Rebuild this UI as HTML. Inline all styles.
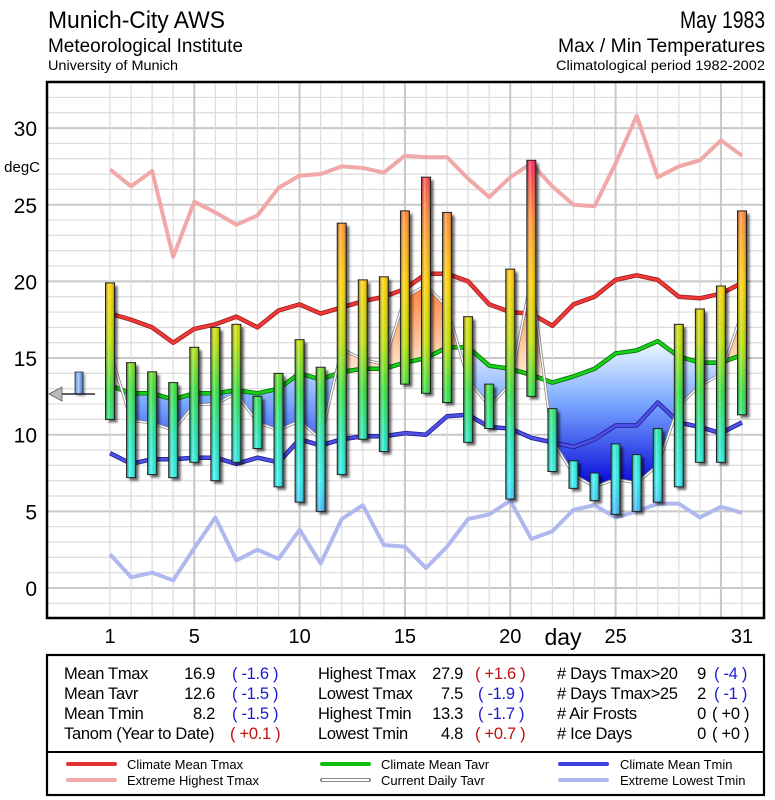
<!DOCTYPE html>
<html><head><meta charset="utf-8"><style>
html,body{margin:0;padding:0;background:#fff;}
svg{display:block;font-family:"Liberation Sans",sans-serif;}
#stats text{letter-spacing:-0.3px;}
</style></head><body>
<svg id="chart" width="775" height="800" viewBox="0 0 775 800">
<defs>
<linearGradient id="barGrad" gradientUnits="userSpaceOnUse" x1="0" y1="159" x2="0" y2="512">
<stop offset="0" stop-color="#ff2058"/><stop offset="0.17" stop-color="#ff9030"/><stop offset="0.35" stop-color="#ffd000"/>
<stop offset="0.52" stop-color="#c0e000"/><stop offset="0.66" stop-color="#30e040"/><stop offset="0.8" stop-color="#20e8c0"/>
<stop offset="0.91" stop-color="#30f0f0"/><stop offset="1" stop-color="#40b8ff"/></linearGradient>
<linearGradient id="barShade" x1="0" y1="0" x2="1" y2="0">
<stop offset="0" stop-color="#000" stop-opacity="0.35"/><stop offset="0.35" stop-color="#fff" stop-opacity="0.35"/>
<stop offset="0.6" stop-color="#fff" stop-opacity="0"/><stop offset="1" stop-color="#000" stop-opacity="0.45"/></linearGradient>
<linearGradient id="blueFill" gradientUnits="userSpaceOnUse" x1="0" y1="345" x2="0" y2="490">
<stop offset="0" stop-color="#e8f4ff"/><stop offset="0.4" stop-color="#7aa8ff"/><stop offset="1" stop-color="#0000d8"/></linearGradient>
<linearGradient id="orangeFill" gradientUnits="userSpaceOnUse" x1="0" y1="280" x2="0" y2="380">
<stop offset="0" stop-color="#ff7a30"/><stop offset="1" stop-color="#fff4e0"/></linearGradient>
<linearGradient id="tanomGrad" x1="0" y1="0" x2="1" y2="0">
<stop offset="0" stop-color="#5080d0"/><stop offset="0.4" stop-color="#b0d0ff"/><stop offset="1" stop-color="#4070c0"/></linearGradient>
<filter id="shadow" x="-50%" y="-10%" width="200%" height="120%"><feGaussianBlur stdDeviation="1.2"/></filter>
<clipPath id="plotClip"><rect x="47" y="82" width="717" height="536"/></clipPath>
</defs>
<g id="header">
<text x="48" y="28" font-size="24" textLength="177" lengthAdjust="spacingAndGlyphs">Munich-City AWS</text>
<text x="48" y="52" font-size="19" textLength="195" lengthAdjust="spacingAndGlyphs">Meteorological Institute</text>
<text x="48" y="70" font-size="14" textLength="130" lengthAdjust="spacingAndGlyphs">University of Munich</text>
<text x="765" y="28" font-size="24" text-anchor="end" textLength="85" lengthAdjust="spacingAndGlyphs">May 1983</text>
<text x="765" y="52" font-size="19" text-anchor="end" textLength="207" lengthAdjust="spacingAndGlyphs">Max / Min Temperatures</text>
<text x="765" y="70" font-size="14" text-anchor="end" textLength="209" lengthAdjust="spacingAndGlyphs">Climatological period 1982-2002</text>
</g>
<g id="grid"></g>
<g id="fills" clip-path="url(#plotClip)"></g>
<g id="lines" clip-path="url(#plotClip)"></g>
<g id="bars"></g>
<g id="marker">
<rect x="77" y="374" width="8" height="22" fill="#333" opacity="0.5" filter="url(#shadow)"/>
<rect x="75" y="372" width="8" height="22" fill="url(#tanomGrad)" stroke="#333" stroke-width="0.8"/>
<line x1="60" y1="394" x2="95" y2="394" stroke="#000" stroke-width="1.3"/>
<polygon points="49,394 62,387 62,401" fill="#bbb" stroke="#555" stroke-width="0.8"/>
</g>
<rect x="47" y="82" width="717" height="536" fill="none" stroke="#000" stroke-width="2.5"/>
<g id="axes"></g>
<text x="40" y="172" font-size="15" text-anchor="end">degC</text>
<text x="563" y="645" font-size="23" text-anchor="middle">day</text>

<g id="stats" font-size="16.5">
<rect x="47" y="655" width="717" height="140" fill="#fff" stroke="#000" stroke-width="2.2"/>
<line x1="47" y1="752" x2="764" y2="752" stroke="#000" stroke-width="2"/>
<g>
<text x="64" y="679">Mean Tmax</text><text x="215" y="679" text-anchor="end">16.9</text><text x="232" y="679" fill="#1a1ad0">( -1.6 )</text>
<text x="64" y="699">Mean Tavr</text><text x="215" y="699" text-anchor="end">12.6</text><text x="232" y="699" fill="#1a1ad0">( -1.5 )</text>
<text x="64" y="719">Mean Tmin</text><text x="215" y="719" text-anchor="end">8.2</text><text x="232" y="719" fill="#1a1ad0">( -1.5 )</text>
<text x="64" y="739">Tanom (Year to Date)</text><text x="230" y="739" fill="#c01010">( +0.1 )</text>
</g>
<g>
<text x="318" y="679">Highest Tmax</text><text x="463" y="679" text-anchor="end">27.9</text><text x="475" y="679" fill="#c01010">( +1.6 )</text>
<text x="318" y="699">Lowest Tmax</text><text x="463" y="699" text-anchor="end">7.5</text><text x="478" y="699" fill="#1a1ad0">( -1.9 )</text>
<text x="318" y="719">Highest Tmin</text><text x="463" y="719" text-anchor="end">13.3</text><text x="478" y="719" fill="#1a1ad0">( -1.7 )</text>
<text x="318" y="739">Lowest Tmin</text><text x="463" y="739" text-anchor="end">4.8</text><text x="475" y="739" fill="#c01010">( +0.7 )</text>
</g>
<g>
<text x="557" y="679"># Days Tmax&gt;20</text><text x="706" y="679" text-anchor="end">9</text><text x="714" y="679" fill="#1a1ad0">( -4 )</text>
<text x="557" y="699"># Days Tmax&gt;25</text><text x="706" y="699" text-anchor="end">2</text><text x="714" y="699" fill="#1a1ad0">( -1 )</text>
<text x="557" y="719"># Air Frosts</text><text x="706" y="719" text-anchor="end">0</text><text x="712" y="719">( +0 )</text>
<text x="557" y="739"># Ice Days</text><text x="706" y="739" text-anchor="end">0</text><text x="712" y="739">( +0 )</text>
</g>
</g>
<g id="legend" font-size="13">
<g><line x1="68" y1="764" x2="115" y2="764" stroke="#e03030" stroke-width="4" stroke-linecap="round"/><text x="127" y="769">Climate Mean Tmax</text></g>
<g><line x1="68" y1="780" x2="115" y2="780" stroke="#f0a8a8" stroke-width="4" stroke-linecap="round"/><text x="127" y="785">Extreme Highest Tmax</text></g>
<g><line x1="322" y1="764" x2="369" y2="764" stroke="#10c010" stroke-width="4" stroke-linecap="round"/><text x="381" y="769">Climate Mean Tavr</text></g>
<g><line x1="322" y1="780" x2="369" y2="780" stroke="#888" stroke-width="4" stroke-linecap="round"/><line x1="322" y1="780" x2="369" y2="780" stroke="#fff" stroke-width="2"/><text x="381" y="785">Current Daily Tavr</text></g>
<g><line x1="560" y1="764" x2="607" y2="764" stroke="#4040e0" stroke-width="4" stroke-linecap="round"/><text x="620" y="769">Climate Mean Tmin</text></g>
<g><line x1="560" y1="780" x2="607" y2="780" stroke="#b0b8f0" stroke-width="4" stroke-linecap="round"/><text x="620" y="785">Extreme Lowest Tmin</text></g>
</g>
</svg>
<script>
const days = [1,2,3,4,5,6,7,8,9,10,11,12,13,14,15,16,17,18,19,20,21,22,23,24,25,26,27,28,29,30,31];
const tmax = [19.9,14.7,14.1,13.4,15.7,17.0,17.2,12.5,14.0,16.2,14.4,23.8,20.1,20.3,24.6,26.8,24.5,17.7,13.3,20.8,27.9,11.7,8.3,7.5,9.4,8.7,10.4,17.2,18.2,19.7,24.6];
const tmin = [11.0,7.2,7.4,7.2,8.2,7.0,8.2,9.1,6.6,5.6,5.0,7.4,9.7,8.9,13.3,12.7,12.1,9.5,10.4,5.8,12.5,7.6,6.5,5.7,4.8,5.0,5.6,6.6,8.2,8.2,11.3];
const climTmax = [17.9,17.5,17.0,16.0,16.9,17.2,17.7,17.0,18.1,18.5,17.9,18.3,18.7,19.0,19.5,20.5,20.5,20.0,18.5,18.0,17.9,17.1,18.5,19.0,20.1,20.4,20.1,19.0,18.9,19.2,19.9];
const extTmax = [27.3,26.2,27.2,21.6,25.2,24.5,23.7,24.3,26.1,26.9,27.0,27.5,27.4,27.1,28.2,28.1,28.1,26.7,25.5,26.8,27.7,26.2,25.0,24.9,27.7,30.8,26.8,27.5,27.9,29.2,28.2];
const climTavr = [13.2,12.7,12.7,12.3,12.7,12.7,12.9,12.7,13.0,14.0,13.6,14.1,14.3,14.3,14.7,15.0,15.7,15.7,14.5,14.3,13.9,13.4,13.8,14.3,15.3,15.5,16.1,15.1,14.7,14.7,15.2];
const climTmin = [8.8,8.1,8.4,8.4,8.5,8.5,8.1,8.5,8.2,9.7,9.3,9.7,9.9,9.9,10.1,10.0,11.2,11.3,10.5,10.4,9.8,9.5,9.2,9.7,10.6,10.6,12.1,10.8,10.5,10.1,10.8];
const extTmin = [2.2,0.7,1.0,0.5,2.6,4.6,1.8,2.5,1.9,3.8,1.6,4.5,5.4,2.8,2.7,1.3,2.7,4.5,4.8,5.7,3.2,3.7,5.1,5.4,4.6,5.0,5.5,5.5,4.6,5.3,4.9];
const yTicks = [0,5,10,15,20,25,30];
const xTicks = [1,5,10,15,20,25,31];

const NS = "http://www.w3.org/2000/svg";
const X = d => 110 + (d - 1) * 21.067;
const Y = t => 588 - t * 15.33;
function mk(tag, attrs, parent){ const e=document.createElementNS(NS,tag); for(const k in attrs) e.setAttribute(k,attrs[k]); parent.appendChild(e); return e; }
const tavr = tmax.map((v,i)=>(v+tmin[i])/2);

const grid = document.getElementById('grid');
for(let t=-2;t<=33;t++){
  const l = mk('line',{x1:47,x2:764,y1:Y(t),y2:Y(t),stroke:t%5===0?'#c8c8c8':'#dcdcdc','stroke-width':t%5===0?2:1.2},grid);
  
  
}
for(let d=1;d<=31;d++){
  const major = d%5===0;
  const l = mk('line',{x1:X(d),x2:X(d),y1:82,y2:618,stroke:major?'#c8c8c8':'#dcdcdc','stroke-width':major?2:1.2},grid);
  
  
}
const axes = document.getElementById('axes');
yTicks.forEach(t=>{
  const e = mk('text',{x:37,y:Y(t)+8,'font-size':21,'text-anchor':'end'},axes);
  e.textContent = t;
  
  
});
xTicks.forEach(d=>{
  const e = mk('text',{x:X(d),y:643,'font-size':20,'text-anchor':'middle'},axes);
  e.textContent = d;
  
  
});
const fills = document.getElementById('fills');
const defs = document.querySelector('defs');
const climPts = days.map((d,i)=>X(d)+','+Y(climTavr[i]));
const tavPts = days.map((d,i)=>X(d)+','+Y(tavr[i]));
const above = mk('clipPath',{id:'aboveClim'},defs);
mk('polygon',{points:[X(1)+',0',...climPts,X(31)+',0'].join(' ')},above);
const below = mk('clipPath',{id:'belowClim'},defs);
mk('polygon',{points:[X(1)+',800',...climPts,X(31)+',800'].join(' ')},below);
const region = [...tavPts, ...climPts.slice().reverse()].join(' ');
const fo = mk('polygon',{points:region,fill:'url(#orangeFill)','clip-path':'url(#aboveClim)'},fills);


const fb = mk('polygon',{points:region,fill:'url(#blueFill)','clip-path':'url(#belowClim)'},fills);


const lines = document.getElementById('lines');
function series(vals,color,w,name){
  const pts = days.map((d,i)=>X(d)+','+Y(vals[i])).join(' ');
  const p = mk('polyline',{points:pts,fill:'none',stroke:color,'stroke-width':w,'stroke-linejoin':'round'},lines);
  
  
  return pts;
}
series(extTmax,'#f0a8a8',4,'extreme-highest-tmax-line');
series(extTmin,'#b0b8f0',4,'extreme-lowest-tmin-line');
series(climTmax,'#a02020',4.5,'climate-mean-tmax-outline');
series(climTmax,'#f03838',2.8,'climate-mean-tmax-line');
series(climTavr,'#087008',4.5,'climate-mean-tavr-outline');
series(climTavr,'#18d018',2.8,'climate-mean-tavr-line');
series(climTmin,'#202090',4.5,'climate-mean-tmin-outline');
series(climTmin,'#5050e8',2.8,'climate-mean-tmin-line');
series(tavr,'#888',3,'daily-tavr-outline');
series(tavr,'#fff',1.4,'daily-tavr-line');
const bars = document.getElementById('bars');
days.forEach((d,i)=>{
  const x = X(d)-4.5, y1 = Y(tmax[i]), y2 = Y(tmin[i]);
  const g = mk('g',{},bars);
  
  
  mk('rect',{x:x+3,y:y1+3,width:9,height:y2-y1,fill:'#000',opacity:0.6,filter:'url(#shadow)'},g);
  mk('rect',{x:x,y:y1,width:9,height:y2-y1,fill:'url(#barGrad)'},g);
  mk('rect',{x:x,y:y1,width:9,height:y2-y1,fill:'url(#barShade)',stroke:'#222','stroke-width':1},g);
});
</script>
</body></html>
